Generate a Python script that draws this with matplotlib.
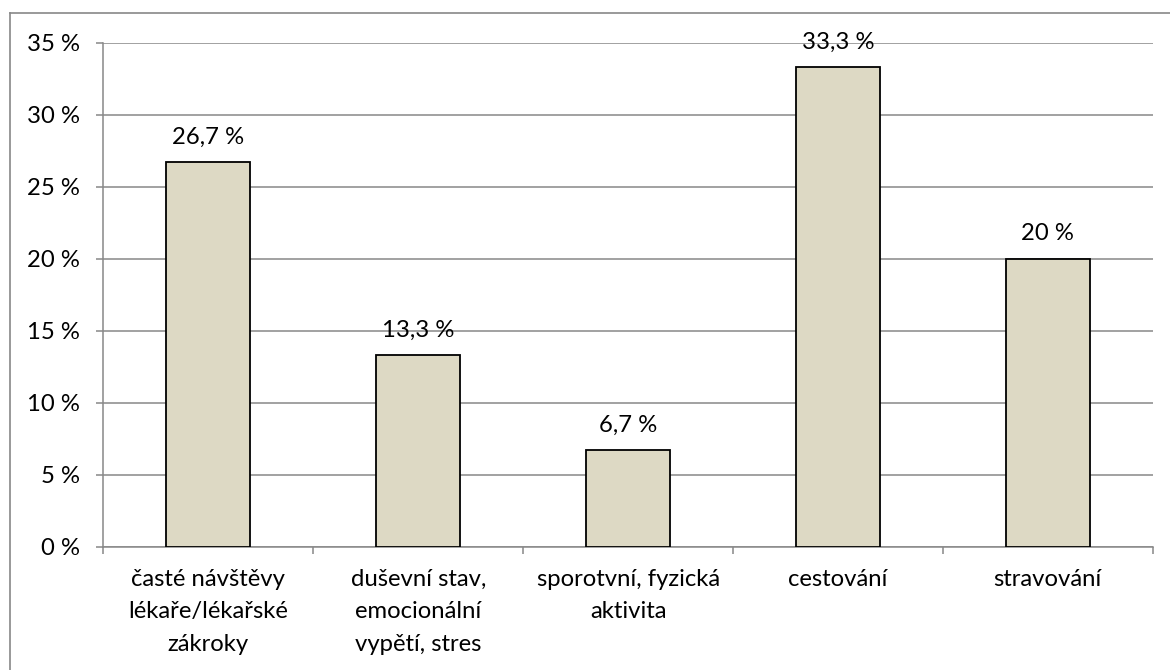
import matplotlib
matplotlib.use("Agg")
import matplotlib.pyplot as plt
from matplotlib.lines import Line2D
import numpy as np

categories = [
    "časté návštěvy\nlékaře/lékařské\nzákroky",
    "duševní stav,\nemocionální\nvypětí, stres",
    "sporotvní, fyzická\naktivita",
    "cestování",
    "stravování",
]
values = [26.7, 13.3, 6.7, 33.3, 20.0]
y_ticks = [0, 5, 10, 15, 20, 25, 30, 35]


def pct(v):
    s = f"{v:.1f}".rstrip("0").rstrip(".").replace(".", ",")
    return f"{s} %"


plt.rcParams["font.family"] = ["Lato", "DejaVu Sans"]
GRID = "#888888"
FILL = "#ddd9c4"
FS = 17.2

fig = plt.figure(figsize=(11.7, 6.7), dpi=100)
ax = fig.add_axes([0.08846, 0.18403, 0.89675, 0.75224])

x = np.arange(len(values))
ax.bar(x, values, width=0.4, color=FILL, edgecolor="black", linewidth=1.3, zorder=3)

for xi, v in zip(x, values):
    ax.annotate(pct(v), (xi, v), xytext=(0, 13.5), textcoords="offset points",
                ha="center", va="baseline", fontsize=FS, color="black", zorder=4)

ax.set_xlim(-0.5, len(values) - 0.5)
ax.set_ylim(0, 35)
ax.set_yticks(y_ticks)
ax.set_yticklabels([f"{t} %" for t in y_ticks])
ax.yaxis.grid(True, color=GRID, linewidth=1.1, zorder=0)
ax.set_axisbelow(True)

ax.set_xticks(x)
ax.set_xticklabels(categories, fontsize=FS, linespacing=1.68)
ax.set_xticks(np.arange(len(values) + 1) - 0.5, minor=True)
ax.tick_params(axis="x", which="major", length=0, pad=16)
ax.tick_params(axis="x", which="minor", length=5, width=1.1, color=GRID, direction="out")
ax.tick_params(axis="y", length=5, width=1.1, color=GRID, direction="out", pad=12,
               labelsize=FS)

for side in ("top", "right"):
    ax.spines[side].set_visible(False)
for side in ("left", "bottom"):
    ax.spines[side].set_color(GRID)
    ax.spines[side].set_linewidth(1.1)

# chart area frame (top and left edges)
fig.add_artist(Line2D([10 / 1170, 1.0], [1 - 13 / 670, 1 - 13 / 670],
                      transform=fig.transFigure, color=GRID, linewidth=1.2))
fig.add_artist(Line2D([10 / 1170, 10 / 1170], [0.0, 1 - 13 / 670],
                      transform=fig.transFigure, color=GRID, linewidth=1.2))

fig.savefig("out.png", dpi=100, facecolor="white")
